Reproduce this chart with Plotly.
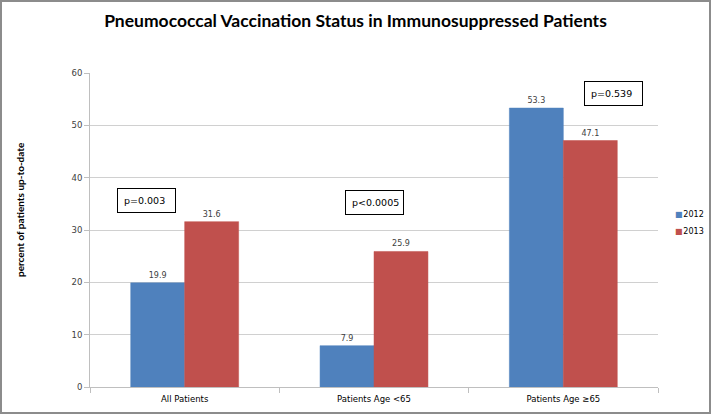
import plotly.graph_objects as go

categories = ["All Patients", "Patients Age <65", "Patients Age \u226565"]
values_2012 = [19.9, 7.9, 53.3]
values_2013 = [31.6, 25.9, 47.1]
p_labels = ["p=0.003", "p<0.0005", "p=0.539"]
y_ticks = [0, 10, 20, 30, 40, 50, 60]
series = [("2012", values_2012, "#4F81BD"), ("2013", values_2013, "#C0504D")]

W, H = 711, 414
L, R, T, B = 90, 53, 73, 27
pw, ph = W - L - R, H - T - B

fig = go.Figure()
for name, vals, col in series:
    fig.add_trace(go.Bar(
        name=name, x=categories, y=vals, showlegend=False,
        marker=dict(color=col, line=dict(color=col, width=0.5)),
        text=[f"{v:.1f}" for v in vals], textposition="outside",
        textfont=dict(family="DejaVu Sans", size=8, color="#404040"),
        cliponaxis=False,
    ))

# compact legend (swatch + label) placed at the right, as in the original
legend_y = [214, 231]
for (name, vals, col), ly in zip(series, legend_y):
    fig.add_annotation(
        x=(673 - L) / pw, y=(387 - ly) / ph, xref="paper", yref="paper",
        text=f"<span style='color:{col};font-size:8px'>\u25A0</span>&#8202;{name}",
        showarrow=False, xanchor="left", yanchor="middle",
        font=dict(family="DejaVu Sans", size=8, color="#000000"),
    )

# p-value boxes (positions in category index units / data units)
box_pos = [(-0.2, 35.7), (1.0, 35.3), (2.265, 56.1)]
for lab, (bx, by) in zip(p_labels, box_pos):
    fig.add_annotation(
        x=bx, y=by, xref="x", yref="y", text="&nbsp;" + lab, showarrow=False,
        font=dict(family="DejaVu Sans", size=9.5, color="#000000"),
        width=51, height=17, align="left", borderpad=3,
        bordercolor="#000000", borderwidth=1, bgcolor="#FFFFFF",
    )

# y axis title as annotation
fig.add_annotation(
    x=(20 - L) / pw, y=(387 - 210) / ph, xref="paper", yref="paper",
    text="<b>percent of patients up-to-date</b>", textangle=-90, showarrow=False,
    font=dict(family="Lato", size=10, color="#000000"),
    xanchor="center", yanchor="middle",
)

# outer frame
fig.add_shape(
    type="rect", xref="paper", yref="paper", layer="above",
    x0=(1 - L) / pw, x1=(W - 1 - L) / pw,
    y0=(387 - (H - 1)) / ph, y1=(387 - 1) / ph,
    line=dict(color="#8C8C8C", width=2),
)

fig.update_layout(
    width=W, height=H,
    margin=dict(l=L, r=R, t=T, b=B, autoexpand=False),
    paper_bgcolor="#FFFFFF", plot_bgcolor="#FFFFFF",
    barmode="group", bargap=0.43, bargroupgap=0,
    title=dict(text="<b>Pneumococcal Vaccination Status in Immunosuppressed Patients</b>",
               x=0.5, xref="container", xanchor="center", y=1 - 21 / H, yref="container",
               yanchor="middle",
               font=dict(family="Lato", size=17.5, color="#000000")),
    showlegend=False,
    xaxis=dict(
        type="category", tickson="boundaries", ticks="outside", ticklen=5,
        tickcolor="#BFBFBF", showline=True, linecolor="#BFBFBF", linewidth=1,
        showgrid=False, tickfont=dict(family="DejaVu Sans", size=8.5, color="#000000"),
        ticklabelstandoff=4,
        range=[-0.5, 2.5], automargin=False,
    ),
    yaxis=dict(
        range=[0, 60], tickvals=y_ticks, ticks="outside", ticklen=5, tickcolor="#BFBFBF",
        showline=True, linecolor="#BFBFBF", linewidth=1,
        showgrid=True, gridcolor="#D0D0D0", gridwidth=1, zeroline=False,
        tickfont=dict(family="DejaVu Sans", size=8.5, color="#404040"),
        automargin=False,
    ),
)

fig.write_html(
    "out.html",
    config={"displayModeBar": False},
    post_script="document.body.style.margin='0';document.body.style.overflow='hidden';",
)
